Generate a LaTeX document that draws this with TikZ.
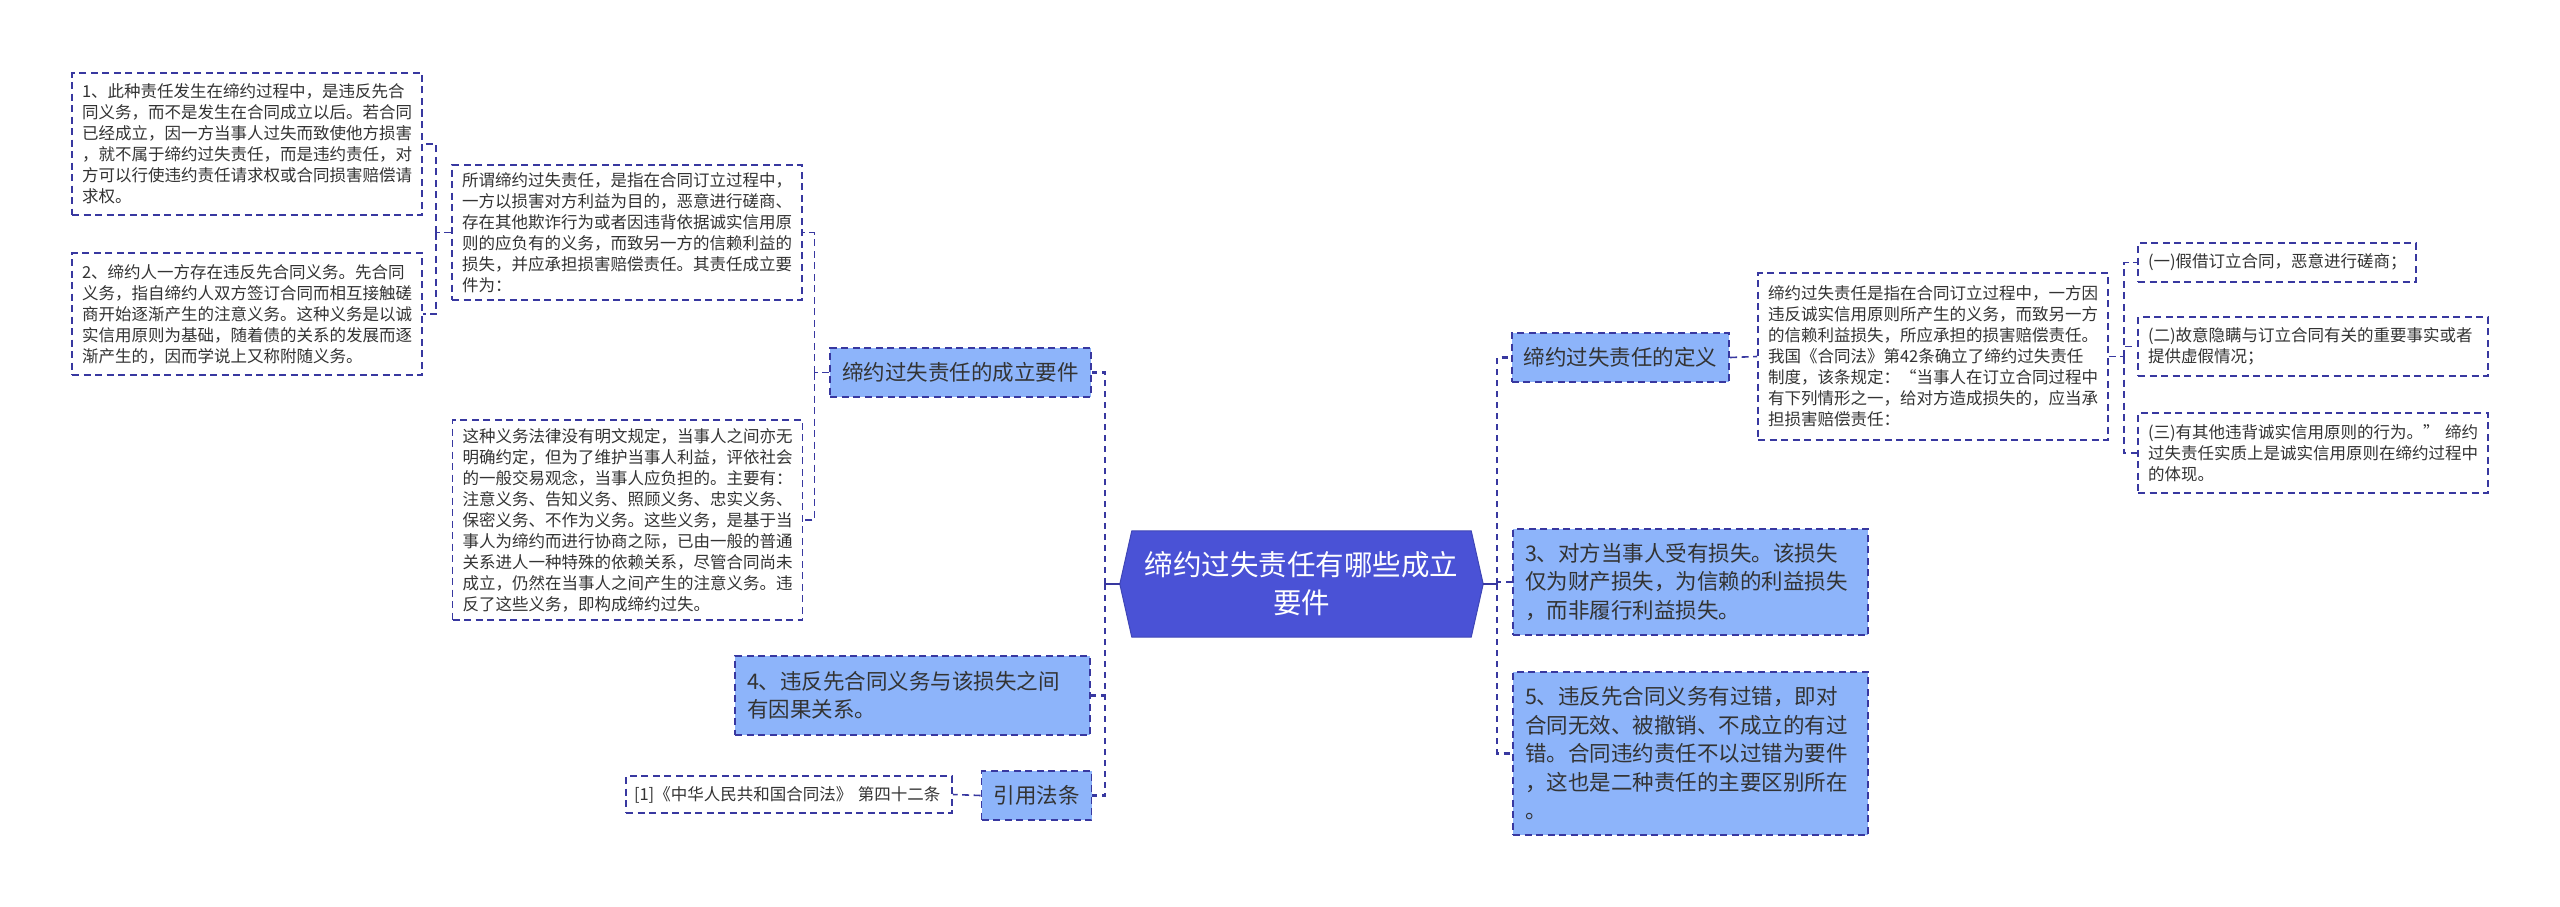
\documentclass[tikz,border=0pt]{standalone}
\usepackage{fontspec}
\setmainfont{Noto Sans CJK SC}
\usetikzlibrary{backgrounds}
\definecolor{LineNavy}{RGB}{56,56,160}
\definecolor{RootBlue}{RGB}{74,82,214}
\definecolor{TopicBlue}{RGB}{141,180,250}
\definecolor{TextGrey}{RGB}{51,51,51}

\begin{document}
\begin{tikzpicture}[x=1pt,y=-1pt,
  note/.style={draw=LineNavy,fill=white,line width=1.6pt,dash pattern=on 7pt off 4.5pt,
               inner xsep=10pt,inner ysep=0pt,text width=330pt,align=left,text=TextGrey,
               font=\fontsize{16.5}{21}\selectfont},
  topic/.style={draw=LineNavy,fill=TopicBlue,line width=1.6pt,dash pattern=on 7pt off 4.5pt,
                inner xsep=12pt,inner ysep=0pt,minimum height=49pt,align=left,text=TextGrey,
                font=\fontsize{21.5}{28.5}\selectfont},
  root/.style={minimum width=363pt,minimum height=106pt,inner sep=0pt,align=center,
               text=white,font=\fontsize{28.5}{38}\selectfont},
  link/.style={draw=LineNavy,line width=1.6pt,dash pattern=on 7pt off 4.5pt},
  trunk/.style={draw=LineNavy,line width=2.4pt,dash pattern=on 6pt off 5pt},
]
\useasboundingbox (0,0) rectangle (2560,907);

\node[root] (root) at (1301.5,584) {缔约过失责任有哪些成立\\要件};
\begin{scope}[on background layer]
\fill[RootBlue,draw=RootBlue!85!black,line width=1pt]
  ([xshift=12pt]root.north west) -- ([xshift=-12pt]root.north east) -- (root.east)
  -- ([xshift=-12pt]root.south east) -- ([xshift=12pt]root.south west) -- (root.west) -- cycle;
\end{scope}

\node[topic] (elements) at (960.5,372.5) {缔约过失责任的成立要件};
\node[topic,text width=331pt,minimum height=79pt] (cause) at (912.5,695.5)
  {4、违反先合同义务与该损失之间\\
   有因果关系。};
\node[topic] (cite) at (1036.5,795.5) {引用法条};
\node[note,text width=310pt,inner xsep=8pt,minimum height=37pt] (law) at (789,794.5)
  {[1]《中华人民共和国合同法》 第四十二条};

\node[note,minimum height=135pt] (meaning) at (627,232.5)
  {所谓缔约过失责任，是指在合同订立过程中，\\
   一方以损害对方利益为目的，恶意进行磋商、\\
   存在其他欺诈行为或者因违背依据诚实信用原\\
   则的应负有的义务，而致另一方的信赖利益的\\
   损失，并应承担损害赔偿责任。其责任成立要\\
   件为：};
\node[note,minimum height=200pt] (implied) at (627.5,520)
  {这种义务法律没有明文规定，当事人之间亦无\\
   明确约定，但为了维护当事人利益，评依社会\\
   的一般交易观念，当事人应负担的。主要有：\\
   注意义务、告知义务、照顾义务、忠实义务、\\
   保密义务、不作为义务。这些义务，是基于当\\
   事人为缔约而进行协商之际，已由一般的普通\\
   关系进人一种特殊的依赖关系，尽管合同尚未\\
   成立，仍然在当事人之间产生的注意义务。违\\
   反了这些义务，即构成缔约过失。};
\node[note,minimum height=142pt] (dutyA) at (247,144)
  {1、此种责任发生在缔约过程中，是违反先合\\
   同义务，而不是发生在合同成立以后。若合同\\
   已经成立，因一方当事人过失而致使他方损害\\
   ，就不属于缔约过失责任，而是违约责任，对\\
   方可以行使违约责任请求权或合同损害赔偿请\\
   求权。};
\node[note,minimum height=122pt] (dutyB) at (247,314)
  {2、缔约人一方存在违反先合同义务。先合同\\
   义务，指自缔约人双方签订合同而相互接触磋\\
   商开始逐渐产生的注意义务。这种义务是以诚\\
   实信用原则为基础，随着债的关系的发展而逐\\
   渐产生的，因而学说上又称附随义务。};

\node[topic] (defn) at (1620.5,357.5) {缔约过失责任的定义};
\node[note,minimum height=167pt] (defbox) at (1933,356.5)
  {缔约过失责任是指在合同订立过程中，一方因\\
   违反诚实信用原则所产生的义务，而致另一方\\
   的信赖利益损失，所应承担的损害赔偿责任。\\
   我国《合同法》第42条确立了缔约过失责任\\
   制度，该条规定：“当事人在订立合同过程中\\
   有下列情形之一，给对方造成损失的，应当承\\
   担损害赔偿责任：};
\node[note,text width=258pt,minimum height=39pt] (case1) at (2277,262.5)
  {(一)假借订立合同，恶意进行磋商；};
\node[note,minimum height=59pt] (case2) at (2313,346.5)
  {(二)故意隐瞒与订立合同有关的重要事实或者\\
   提供虚假情况；};
\node[note,minimum height=80pt] (case3) at (2313,453)
  {\mbox{(三)有其他违背诚实信用原则的行为。”\ 缔约}\\
   过失责任实质上是诚实信用原则在缔约过程中\\
   的体现。};
\node[topic,text width=331pt,minimum height=106pt] (loss) at (1690.5,582)
  {3、对方当事人受有损失。该损失\\
   仅为财产损失，为信赖的利益损失\\
   ，而非履行利益损失。};
\node[topic,text width=331pt,minimum height=163pt] (fault) at (1690.5,753.5)
  {5、违反先合同义务有过错，即对\\
   合同无效、被撤销、不成立的有过\\
   错。合同违约责任不以过错为要件\\
   ，这也是二种责任的主要区别所在\\
   。};

\coordinate (lbus) at (1105,584);
\coordinate (rbus) at (1497,584);
\coordinate (ebus) at ([xshift=-15pt]elements.west);
\coordinate (mbus) at ([xshift=-15pt]meaning.west);
\coordinate (dbus) at ([xshift=15pt]defbox.east);

\draw[draw=LineNavy,line width=2.6pt] (root.west) -- (lbus);
\draw[draw=LineNavy,line width=2.6pt] (root.east) -- (rbus);
\foreach \b in {elements,cause,cite}
  \draw[trunk] (lbus) |- (\b.east);
\foreach \b in {defn,loss,fault}
  \draw[trunk] (rbus) |- (\b.west);

\draw[link] (elements.west) -- (ebus);
\draw[link] (meaning.west) -- (mbus);
\draw[link] (defbox.east) -- (dbus);
\foreach \a/\b in {ebus/meaning,ebus/implied,mbus/dutyA,mbus/dutyB}
  \draw[link] (\a) |- (\b.east);
\foreach \b in {case1,case2,case3}
  \draw[link] (dbus) |- (\b.west);
\draw[link] (defn.east) -- (defbox.west);
\draw[link] (cite.west) -- (law.east);
\end{tikzpicture}
\end{document}
